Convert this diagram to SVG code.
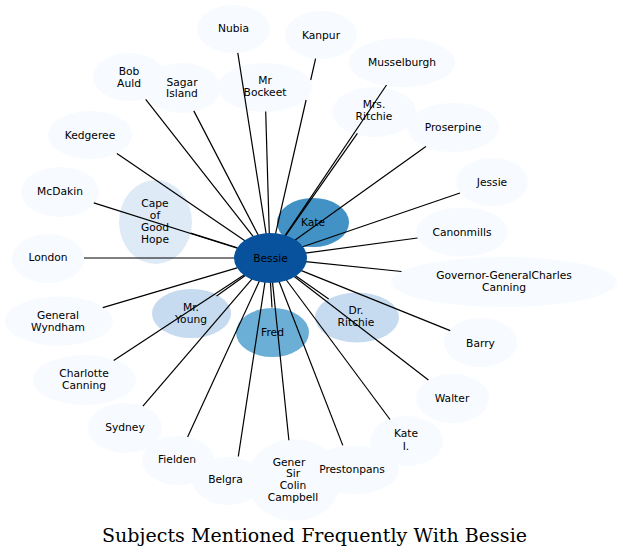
<svg xmlns="http://www.w3.org/2000/svg" width="623" height="558" viewBox="0 0 623 558">
<style>
.n ellipse{fill:#f7fbff;stroke:none}
.n text{font-family:"DejaVu Sans",sans-serif;font-size:10.7px;fill:#000;text-anchor:middle}
.m ellipse{fill:#c6dbef}
.c ellipse{fill:#deebf7}
#edges line{stroke:#000;stroke-width:1.2}
.title{font-family:"DejaVu Serif",serif;font-size:19px;fill:#000;text-anchor:middle}
</style>
<rect width="623" height="558" fill="#fff"/>
<g id="nubia" class="n"><ellipse cx="233.5" cy="29" rx="36.5" ry="24"/><text x="233.5" y="32.3">Nubia</text></g>
<g id="kanpur" class="n"><ellipse cx="321" cy="35" rx="36" ry="24"/><text x="321" y="39">Kanpur</text></g>
<g id="bobauld" class="n"><ellipse cx="129" cy="77" rx="36" ry="24"/><text x="129" y="75">Bob</text><text x="129" y="86.5">Auld</text></g>
<g id="sagar" class="n"><ellipse cx="182" cy="88" rx="38" ry="25"/><text x="182" y="85.5">Sagar</text><text x="182" y="97">Island</text></g>
<g id="bockeet" class="n"><ellipse cx="265" cy="87.5" rx="47" ry="24.5"/><text x="265" y="84">Mr</text><text x="265" y="95.7">Bockeet</text></g>
<g id="musselburgh" class="n"><ellipse cx="402" cy="62.5" rx="53" ry="24.5"/><text x="402" y="65.7">Musselburgh</text></g>
<g id="mrsritchie" class="n"><ellipse cx="374" cy="112" rx="42" ry="25"/><text x="374" y="108">Mrs.</text><text x="374" y="120">Ritchie</text></g>
<g id="proserpine" class="n"><ellipse cx="453" cy="127.5" rx="46" ry="24.5"/><text x="453" y="130.7">Proserpine</text></g>
<g id="kedgeree" class="n"><ellipse cx="90" cy="135" rx="42" ry="24"/><text x="90" y="138.5">Kedgeree</text></g>
<g id="jessie" class="n"><ellipse cx="492" cy="182" rx="36" ry="24"/><text x="492" y="185.5">Jessie</text></g>
<g id="mcdakin" class="n"><ellipse cx="60" cy="192" rx="39" ry="25"/><text x="60" y="195">McDakin</text></g>
<g id="cape" class="n c"><ellipse cx="155.5" cy="222" rx="36.5" ry="42"/><text x="155" y="207.3">Cape</text><text x="155" y="219">of</text><text x="155" y="230.7">Good</text><text x="155" y="243">Hope</text></g>
<g id="canonmills" class="n"><ellipse cx="462" cy="232" rx="46" ry="24.5"/><text x="462" y="236">Canonmills</text></g>
<g id="london" class="n"><ellipse cx="48" cy="258.5" rx="36" ry="24.5"/><text x="48" y="261.3">London</text></g>
<g id="governor" class="n"><ellipse cx="504" cy="282" rx="113" ry="25"/><text x="504" y="279">Governor-GeneralCharles</text><text x="504" y="290.7">Canning</text></g>
<g id="wyndham" class="n"><ellipse cx="59" cy="321" rx="54" ry="24.5"/><text x="58" y="319">General</text><text x="58" y="330.7">Wyndham</text></g>
<g id="mryoung" class="n m"><ellipse cx="191.5" cy="313.5" rx="39.5" ry="24.5"/><text x="191" y="310.7">Mr.</text><text x="191" y="323.3">Young</text></g>
<g id="drritchie" class="n m"><ellipse cx="357" cy="317.5" rx="42" ry="25"/><text x="356" y="314">Dr.</text><text x="356" y="325.7">Ritchie</text></g>
<g id="barry" class="n"><ellipse cx="480.5" cy="342.5" rx="36.5" ry="24.5"/><text x="480.5" y="346.7">Barry</text></g>
<g id="charlotte" class="n"><ellipse cx="84.5" cy="380" rx="51.5" ry="25"/><text x="84" y="377.3">Charlotte</text><text x="84" y="389">Canning</text></g>
<g id="walter" class="n"><ellipse cx="452.5" cy="398.5" rx="36.5" ry="24.5"/><text x="452" y="401.7">Walter</text></g>
<g id="sydney" class="n"><ellipse cx="125" cy="428" rx="37" ry="25"/><text x="125" y="431.3">Sydney</text></g>
<g id="kateI" class="n"><ellipse cx="406.5" cy="441" rx="36.5" ry="25"/><text x="406" y="437.3">Kate</text><text x="406" y="449.7">I.</text></g>
<g id="fielden" class="n"><ellipse cx="178" cy="460.5" rx="36" ry="24.5"/><text x="177" y="463">Fielden</text></g>
<g id="belgra" class="n"><ellipse cx="228" cy="481" rx="35" ry="24"/><text x="225.5" y="483.3">Belgra</text></g>
<g id="campbell" class="n"><ellipse cx="294" cy="480" rx="47" ry="41"/><text x="289" y="465.7">Gener</text><text x="293" y="477.3">Sir</text><text x="293" y="489">Colin</text><text x="293" y="500.7">Campbell</text></g>
<g id="prestonpans" class="n"><ellipse cx="353" cy="470" rx="46" ry="24"/><text x="352" y="473">Prestonpans</text></g>
<g id="kate" class="n"><ellipse cx="313" cy="222.5" rx="36" ry="24.5" style="fill:#4292c6"/><text x="313" y="226.3">Kate</text></g>
<g id="fred" class="n"><ellipse cx="272.5" cy="332.5" rx="36.5" ry="24.5" style="fill:#6baed6"/><text x="272.5" y="335.7">Fred</text></g>
<g id="edges">
<line x1="266.2" y1="234.1" x2="237.8" y2="52.9"/>
<line x1="275.4" y1="234.3" x2="306.1" y2="100"/>
<line x1="310.7" y1="80" x2="315.6" y2="58.7"/>
<line x1="253.3" y1="236.7" x2="145.7" y2="99.3"/>
<line x1="258.3" y1="235.3" x2="193.8" y2="110.9"/>
<line x1="269.3" y1="234" x2="265.7" y2="111.5"/>
<line x1="284.7" y1="236.1" x2="386.5" y2="85"/>
<line x1="285.2" y1="236.2" x2="357.4" y2="133.3"/>
<line x1="294.5" y1="240.4" x2="425.9" y2="146.4"/>
<line x1="244.9" y1="240.8" x2="116.9" y2="153.4"/>
<line x1="302" y1="247" x2="460" y2="193"/>
<line x1="237.4" y1="248.2" x2="93.8" y2="202.9"/>
<line x1="237.4" y1="247.8" x2="190.7" y2="233.1"/>
<line x1="305.3" y1="253.2" x2="417.5" y2="238"/>
<line x1="234" y1="258" x2="84" y2="258"/>
<line x1="305.6" y1="261.6" x2="401.5" y2="271.5"/>
<line x1="237.1" y1="267.8" x2="102.8" y2="307.6"/>
<line x1="245.3" y1="275.5" x2="216.6" y2="295.9"/>
<line x1="244.3" y1="274.8" x2="113.7" y2="360.5"/>
<line x1="300.8" y1="270.4" x2="450.2" y2="330.6"/>
<line x1="294.9" y1="275.3" x2="328.7" y2="299"/>
<line x1="293.6" y1="276.1" x2="428.4" y2="379.9"/>
<line x1="252.1" y1="278.8" x2="142.9" y2="406.2"/>
<line x1="286" y1="279.5" x2="390" y2="419.5"/>
<line x1="259.4" y1="281" x2="187.6" y2="437.1"/>
<line x1="265" y1="281.8" x2="238.3" y2="456.5"/>
<line x1="272.5" y1="281.9" x2="288.9" y2="440.2"/>
<line x1="279" y1="281.2" x2="342.8" y2="445.4"/>
<line x1="270.5" y1="283" x2="272" y2="307.5"/>
</g>
<g id="bessie" class="n"><ellipse cx="270.5" cy="258" rx="36.5" ry="25" style="fill:#08519c"/><text x="270.5" y="261.5">Bessie</text></g>
<text class="title" x="314.5" y="542" textLength="425" lengthAdjust="spacing">Subjects Mentioned Frequently With Bessie</text>
</svg>
